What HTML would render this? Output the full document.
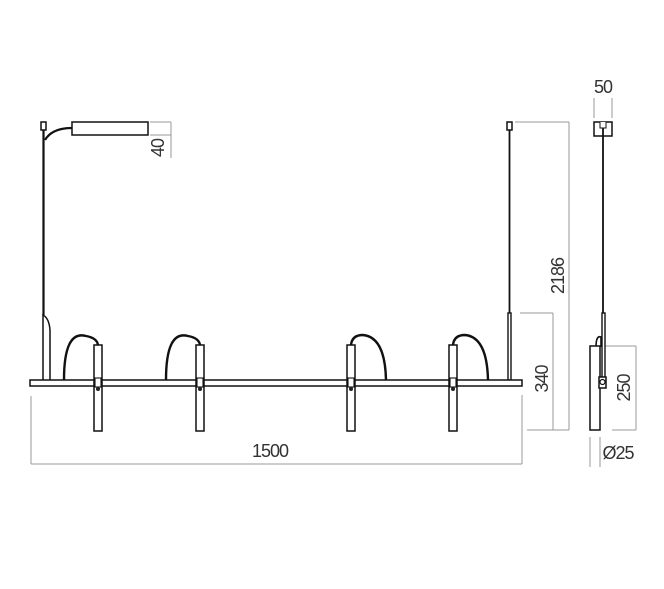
<!DOCTYPE html>
<html><head><style>
html,body{margin:0;padding:0;background:#fff;width:664px;height:589px;overflow:hidden}
text{font-family:"Liberation Sans",sans-serif;font-size:18px;fill:#333;letter-spacing:-1px}
</style></head><body>
<svg width="664" height="589" viewBox="0 0 664 589" xmlns="http://www.w3.org/2000/svg">
<g fill="none" stroke="#999" stroke-width="1">
<line x1="150" y1="122" x2="171" y2="122"/><line x1="150" y1="135" x2="171" y2="135"/><line x1="171" y1="122" x2="171" y2="158"/>
<line x1="515" y1="122" x2="569" y2="122"/><line x1="527" y1="430" x2="569" y2="430"/><line x1="569" y1="122" x2="569" y2="430"/>
<line x1="520" y1="313" x2="553" y2="313"/><line x1="553" y1="313" x2="553" y2="430"/>
<line x1="31" y1="396" x2="31" y2="464"/><line x1="522" y1="395" x2="522" y2="464"/><line x1="31" y1="464" x2="522" y2="464"/>
<line x1="594" y1="98" x2="594" y2="118"/><line x1="612" y1="98" x2="612" y2="118"/>
<line x1="605" y1="346" x2="636" y2="346"/><line x1="612" y1="430" x2="636" y2="430"/><line x1="636" y1="346" x2="636" y2="430"/>
<line x1="590" y1="437" x2="590" y2="467"/><line x1="600" y1="437" x2="600" y2="467"/>
</g>
<g fill="#fff" stroke="#111" stroke-width="1.5">
<rect x="41" y="122" width="5" height="8"/>
<line x1="43.5" y1="130" x2="43.5" y2="315" stroke-width="2.2"/>
<path d="M43 380 L43 315 Q49 318 50 330 L50 380"/>
<path d="M45 140 Q52 128 72 128" stroke-width="2.2"/>
<rect x="72" y="122" width="76" height="13"/>
<rect x="507" y="122" width="5" height="8"/>
<line x1="509.5" y1="130" x2="509.5" y2="313" stroke-width="1.8"/>
<rect x="508" y="313" width="3" height="67" stroke-width="1.4"/>
<g stroke-width="2.4">
<path d="M64 380 Q64 330 86 336 Q97 338 98 345"/>
<path d="M166 380 Q166 330 188 336 Q199 338 200 345"/>
<path d="M351 345 Q352 335 363 335 Q385 337 386 380"/>
<path d="M453 345 Q454 335 465 335 Q487 337 488 380"/>
</g>
<rect x="30" y="380" width="492" height="6"/>
<rect x="94" y="345" width="8" height="86"/>
<rect x="196" y="345" width="8" height="86"/>
<rect x="347" y="345" width="8" height="86"/>
<rect x="449" y="345" width="8" height="86"/>
<rect x="95" y="378" width="6" height="9" stroke-width="1.1"/>
<rect x="197" y="378" width="6" height="9" stroke-width="1.1"/>
<rect x="348" y="378" width="6" height="9" stroke-width="1.1"/>
<rect x="450" y="378" width="6" height="9" stroke-width="1.1"/>
<rect x="594" y="122" width="18" height="14"/>
<path d="M600 122 L600 128 L606 128 L606 122" stroke-width="1"/>
<line x1="603" y1="128" x2="603" y2="313" stroke-width="1.8"/>
<rect x="602" y="313" width="3" height="67" stroke-width="1.4"/>
<path d="M596 347 Q596 335 601 337 L601 347" stroke-width="1.6"/>
<rect x="590" y="346" width="10" height="84"/>
<rect x="599" y="377" width="7" height="11"/>
<circle cx="602.5" cy="382" r="2.5" stroke-width="1.2"/>
</g>
<g fill="#222">
<circle cx="98" cy="389" r="2"/><circle cx="200" cy="389" r="2"/><circle cx="351" cy="389" r="2"/><circle cx="453" cy="389" r="2"/>
</g>
<text x="270" y="457" text-anchor="middle">1500</text>
<text x="603" y="93" text-anchor="middle">50</text>
<text transform="translate(164,148) rotate(-90)" text-anchor="middle">40</text>
<text transform="translate(564,276) rotate(-90)" text-anchor="middle">2186</text>
<text transform="translate(548,379) rotate(-90)" text-anchor="middle">340</text>
<text transform="translate(630,388) rotate(-90)" text-anchor="middle">250</text>
<text x="618" y="459" text-anchor="middle">Ø25</text>
</svg>
</body></html>
